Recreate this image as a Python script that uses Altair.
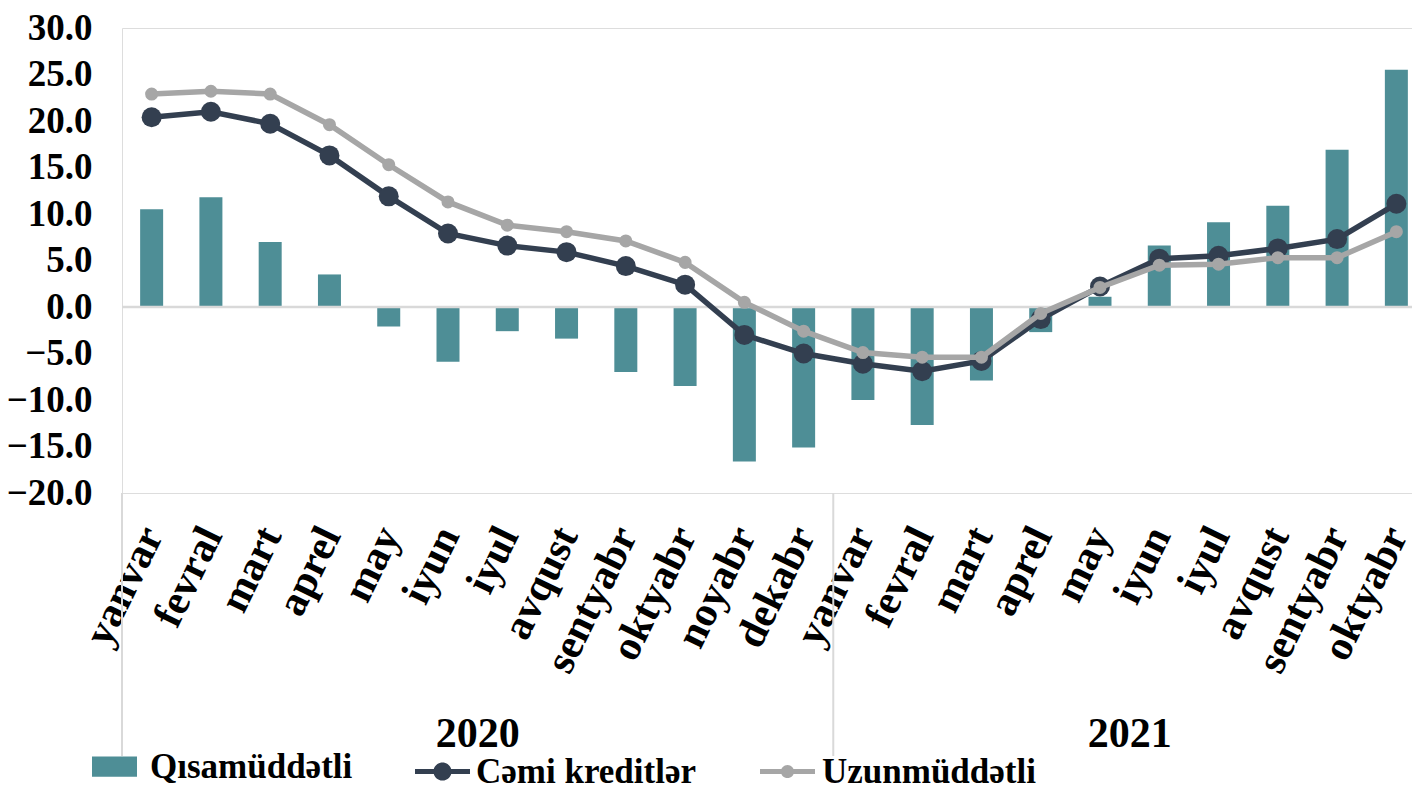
import altair as alt
import pandas as pd

months = ["yanvar", "fevral", "mart", "aprel", "may", "iyun", "iyul", "avqust",
          "sentyabr", "oktyabr", "noyabr", "dekabr",
          "yanvar", "fevral", "mart", "aprel", "may", "iyun", "iyul", "avqust",
          "sentyabr", "oktyabr"]
short_term = [10.5, 11.8, 7.0, 3.5, -2.1, -5.9, -2.6, -3.4, -7.0, -8.5, -16.6, -15.1,
              -10.0, -12.7, -7.9, -2.7, 1.1, 6.6, 9.1, 10.9, 16.9, 25.5]
total_credit = [20.4, 21.0, 19.7, 16.3, 11.9, 7.9, 6.6, 5.9, 4.4, 2.4, -3.0, -5.0,
                -6.1, -6.9, -5.8, -1.3, 2.2, 5.2, 5.5, 6.3, 7.3, 11.1]
long_term = [22.9, 23.2, 22.9, 19.6, 15.3, 11.3, 8.8, 8.1, 7.1, 4.8, 0.5, -2.6,
             -4.9, -5.4, -5.4, -0.7, 2.1, 4.5, 4.6, 5.3, 5.3, 8.1]
series_names = ["Qısamüddətli", "Cəmi kreditlər", "Uzunmüddətli"]
years = ["2020", "2021"]
year_centers = [5.5, 16.5]
year_bounds = [-0.5, 11.5, 21.5]

df = pd.DataFrame({"idx": list(range(len(months))), "month": months,
                   "q": short_term, "c": total_credit, "u": long_term,
                   "s1": series_names[0], "s2": series_names[1], "s3": series_names[2]})
ydf = pd.DataFrame({"pos": year_centers, "year": years})
bdf = pd.DataFrame({"b": year_bounds})
zdf = pd.DataFrame({"z": [0]})

FONT = "Liberation Serif"
TEAL = "#4E8E96"
DARK = "#333F50"
GREY = "#A6A6A6"
W, H = 1304, 465

label_expr = "[" + ",".join("'%s'" % m for m in months) + "][datum.value]"

xscale = alt.Scale(domain=[-0.5, 21.5], nice=False, zero=False, padding=0)
yscale = alt.Scale(domain=[-20, 30], nice=False, padding=0)

x_axis = alt.Axis(values=list(range(len(months))), labelExpr=label_expr, title=None,
                  domain=False, ticks=False, grid=False, labelAngle=-64,
                  labelAlign="right", labelBaseline="middle", labelPadding=36,
                  labelFont=FONT, labelFontSize=42, labelFontWeight="bold",
                  labelColor="black", labelOverlap=False, labelFlush=False)
y_axis = alt.Axis(values=list(range(-20, 31, 5)), format=".1f", title=None,
                  domain=False, ticks=False, grid=False, labelPadding=30,
                  labelFont=FONT, labelFontSize=37, labelFontWeight="bold",
                  labelColor="black", labelOverlap=False, labelFlush=False)

bar_path = "M-1,-0.45L1,-0.45L1,0.45L-1,0.45Z"
dark_path = ("M-1,-0.09L1,-0.09L1,0.09L-1,0.09Z "
             "M0.33,0A0.33,0.33 0 1,1 -0.33,0A0.33,0.33 0 1,1 0.33,0Z")
grey_path = ("M-1,-0.09L1,-0.09L1,0.09L-1,0.09Z "
             "M0.24,0A0.24,0.24 0 1,1 -0.24,0A0.24,0.24 0 1,1 0.24,0Z")


def legend(x, path, size, offset):
    return alt.Legend(orient="none", legendX=x, legendY=716, title=None,
                      symbolType=path, symbolSize=size, symbolStrokeWidth=0,
                      labelFont=FONT, labelFontSize=35, labelFontWeight="bold",
                      labelColor="black", labelOffset=offset, labelLimit=400)


X = alt.X("idx:Q", scale=xscale, axis=x_axis)

base = alt.Chart(df)

bars = base.mark_bar(orient="vertical", size=23).encode(
    x=X,
    y=alt.Y("q:Q", scale=yscale, axis=y_axis),
    color=alt.Color("s1:N", scale=alt.Scale(range=[TEAL]),
                    legend=legend(-30, bar_path, 2025, 13)),
)

zero = alt.Chart(zdf).mark_rule(color="#D9D9D9", strokeWidth=2.5).encode(
    y=alt.Y("z:Q", scale=yscale, axis=y_axis))

dark_line = base.mark_line(color=DARK, strokeWidth=5.5).encode(
    x=X, y=alt.Y("c:Q", scale=yscale, axis=y_axis))
dark_pts = base.mark_point(filled=True, size=400, opacity=1).encode(
    x=X, y=alt.Y("c:Q", scale=yscale, axis=y_axis),
    color=alt.Color("s2:N", scale=alt.Scale(range=[DARK]),
                    legend=legend(293, dark_path, 3025, 6)))

grey_line = base.mark_line(color=GREY, strokeWidth=5.5).encode(
    x=X, y=alt.Y("u:Q", scale=yscale, axis=y_axis))
grey_pts = base.mark_point(filled=True, size=170, opacity=1).encode(
    x=X, y=alt.Y("u:Q", scale=yscale, axis=y_axis),
    color=alt.Color("s3:N", scale=alt.Scale(range=[GREY]),
                    legend=legend(638, grey_path, 3025, 7)))

seps = alt.Chart(bdf).mark_rule(color="#D9D9D9", strokeWidth=2).encode(
    x=alt.X("b:Q", scale=xscale, axis=x_axis),
    y=alt.value(H), y2=alt.value(H + 263))

year_txt = alt.Chart(ydf).mark_text(font=FONT, fontSize=42, fontWeight="bold",
                                    color="black", baseline="middle").encode(
    x=alt.X("pos:Q", scale=xscale, axis=x_axis),
    y=alt.value(H + 241),
    text="year:N")

chart = alt.layer(bars, zero, dark_line, dark_pts, grey_line, grey_pts, seps, year_txt).resolve_scale(
    color="independent"
).properties(
    width=W, height=H,
    autosize=alt.AutoSizeParams(type="none"),
    padding={"left": 114, "top": 20, "right": -14, "bottom": 297},
).configure_view(strokeWidth=0).configure(font=FONT, background="white")

chart.save("out.html", embed_options={"renderer": "svg", "actions": False})
